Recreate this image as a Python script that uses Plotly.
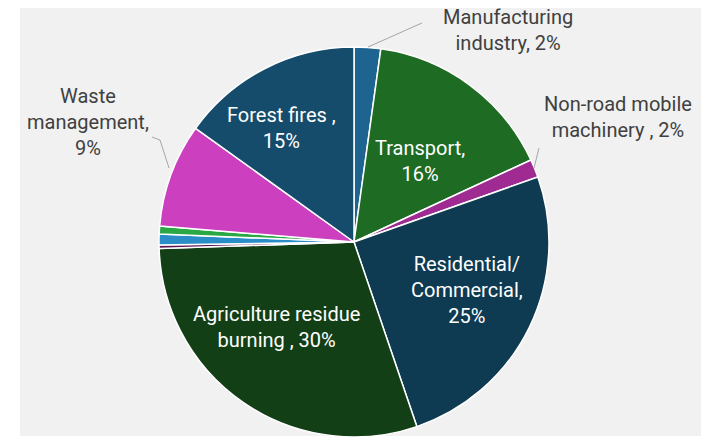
import plotly.graph_objects as go

categories = ["Manufacturing industry", "Transport", "Non-road mobile machinery",
              "Residential/Commercial", "Agriculture residue burning",
              "Other 1", "Other 2", "Other 3", "Waste management", "Forest fires"]
values = [2.2, 15.9, 1.5, 25.2, 29.7, 0.3, 0.9, 0.65, 8.6, 15.1]
colors = ["#1d6590", "#1e6b24", "#9e2a92", "#0e3a52", "#133f17",
          "#5a1450", "#2a8dc8", "#2aa845", "#cc3fbe", "#164c6b"]

W, H = 701, 437
cx, cy, r = 354, 242, 195

fig = go.Figure(go.Pie(
    labels=categories, values=values, sort=False, direction="clockwise", rotation=0,
    marker=dict(colors=colors, line=dict(color="white", width=1.5)),
    textinfo="none", hoverinfo="label+percent", showlegend=False,
    domain=dict(x=[(cx - r) / W, (cx + r) / W], y=[(H - cy - r) / H, (H - cy + r) / H]),
))

def px(x):
    return x / W

def py(y):
    return 1 - y / H

shapes = [dict(type="rect", xref="paper", yref="paper", x0=px(20), x1=1, y0=py(436), y1=py(8),
               fillcolor="#f1f1f1", line=dict(width=0), layer="below")]
# leader lines
lines = [
    [(368, 47), (422, 23)],
    [(534, 168), (539, 148)],
    [(169, 168), (160, 140), (152, 137)],
]
for pts in lines:
    for (x0, y0), (x1, y1) in zip(pts[:-1], pts[1:]):
        shapes.append(dict(type="line", xref="paper", yref="paper", x0=px(x0), y0=py(y0),
                           x1=px(x1), y1=py(y1), line=dict(color="#a6a6a6", width=1)))

inside = [
    ("Forest fires ,<br>15%", 281, 128),
    ("Transport,<br>16%", 420, 161),
    ("Residential/<br>Commercial,<br>25%", 467, 290),
    ("Agriculture residue<br>burning , 30%", 276, 327),
]
outside = [
    ("Manufacturing<br>industry, 2%", 508, 30),
    ("Non-road mobile<br>machinery , 2%", 618, 117),
    ("Waste<br>management,<br>9%", 88, 122),
]
ann = []
for t, x, y in inside:
    ann.append(dict(text=t, x=px(x), y=py(y), xref="paper", yref="paper", showarrow=False,
                    xanchor="center", yanchor="middle",
                    font=dict(color="white", size=20, family="Roboto"), align="center"))
for t, x, y in outside:
    ann.append(dict(text=t, x=px(x), y=py(y), xref="paper", yref="paper", showarrow=False,
                    xanchor="center", yanchor="middle",
                    font=dict(color="#404040", size=20, family="Roboto"), align="center"))

fig.update_layout(width=W, height=H, margin=dict(l=0, r=0, t=0, b=0),
                  paper_bgcolor="white", plot_bgcolor="white",
                  shapes=shapes, annotations=ann)
fig.write_html("out.html")
